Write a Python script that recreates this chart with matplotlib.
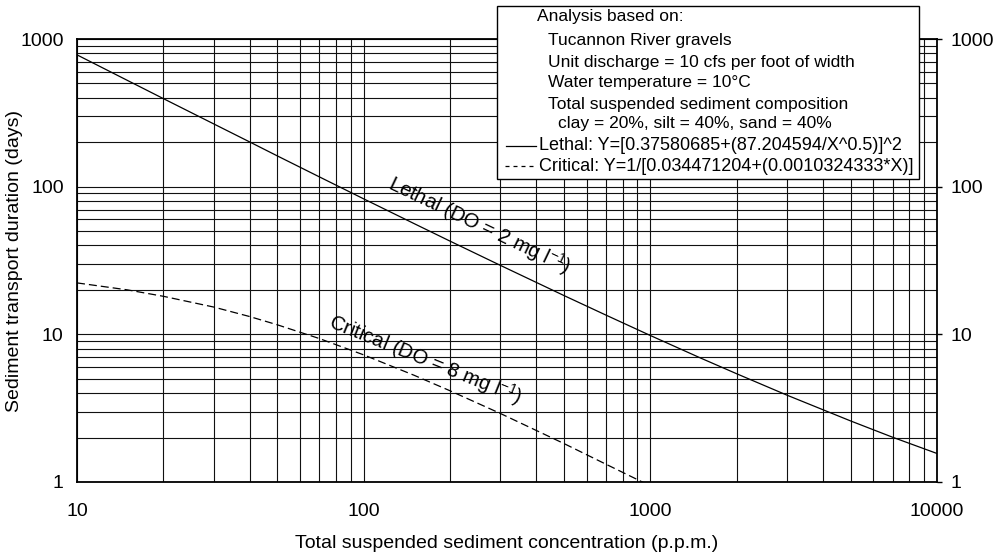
import matplotlib
matplotlib.use("Agg")
import matplotlib.pyplot as plt
from matplotlib.patches import Rectangle
from matplotlib.lines import Line2D
from matplotlib.ticker import LogLocator, FixedLocator, FixedFormatter, NullFormatter

plt.rcParams['font.family'] = ['Liberation Sans', 'DejaVu Sans']
plt.rcParams['mathtext.fontset'] = 'custom'
plt.rcParams['mathtext.rm'] = 'Liberation Sans'
plt.rcParams['mathtext.default'] = 'regular'

# ---- data ----
lethal_x = [10, 15, 20, 30, 40, 50, 70, 100, 150, 200, 300, 500, 700,
            1000, 1500, 2000, 3000, 5000, 7000, 10000]
lethal_y = [781, 524, 395, 266, 201, 161.5, 116.6, 82.7, 56.2, 42.8, 29.3,
            18.3, 13.5, 9.82, 6.90, 5.41, 3.87, 2.59, 2.01, 1.56]

critical_x = [10, 15, 20, 30, 40, 50, 70, 100, 150, 200, 300, 500, 700,
              900, 1000]
critical_y = [22.3, 20.0, 18.1, 15.3, 13.2, 11.6, 9.37, 7.26, 5.28, 4.15,
              2.91, 1.82, 1.32, 1.04, 0.94]

x_ticks = [10, 100, 1000, 10000]
x_ticklabels = ['10', '100', '1000', '10000']
y_ticks = [1, 10, 100, 1000]
y_ticklabels = ['1', '10', '100', '1000']

legend_lines = [
    ("Analysis based on:", 0),
    ("Tucannon River gravels", 1),
    ("Unit discharge = 10 cfs per foot of width", 1),
    ("Water temperature = 10\u00b0C", 1),
    ("Total suspended sediment composition", 1),
    ("clay = 20%, silt = 40%, sand = 40%", 2),
]
lethal_legend = "Lethal: Y=[0.37580685+(87.204594/X^0.5)]^2"
critical_legend = "Critical: Y=1/[0.034471204+(0.0010324333*X)]"

W, H = 1002, 555
fig = plt.figure(figsize=(W / 100, H / 100), dpi=100)
L, R, B, T = 77, 937, 482, 39
ax = fig.add_axes([L / W, 1 - B / H, (R - L) / W, (B - T) / H])

ax.set_xscale('log')
ax.set_yscale('log')
ax.set_xlim(10, 10000)
ax.set_ylim(1, 1000)

ax.plot(lethal_x, lethal_y, color='black', lw=0.9, zorder=3)
ax.plot(critical_x, critical_y, color='black', lw=0.9, zorder=3,
        dashes=(6.4, 3.2))

ax.xaxis.set_major_locator(FixedLocator(x_ticks))
ax.xaxis.set_major_formatter(FixedFormatter(x_ticklabels))
ax.yaxis.set_major_locator(FixedLocator(y_ticks))
ax.yaxis.set_major_formatter(FixedFormatter(y_ticklabels))
for axis in (ax.xaxis, ax.yaxis):
    axis.set_minor_locator(LogLocator(base=10, subs=range(2, 10)))
    axis.set_minor_formatter(NullFormatter())

ax.grid(True, which='both', color='#111111', lw=0.8)
ax.set_axisbelow(True)
for s in ax.spines.values():
    s.set_linewidth(1.3)
    s.set_color('black')

ax.tick_params(axis='x', which='both', length=0, pad=15, labelsize=14)
ax.tick_params(axis='y', which='minor', left=False, right=False)
ax.tick_params(axis='y', which='major', left=False, right=True,
               labelleft=True, labelright=True, labelsize=14,
               length=3.6, width=1.0, direction='out', pad=6)

ax.set_xlabel("Total suspended sediment concentration (p.p.m.)", fontsize=14)
ax.xaxis.set_label_coords(0.5, (B - 543) / (B - T))
ax.xaxis.label.set_va('center')
ax.set_ylabel("Sediment transport duration (days)", fontsize=14)
ax.yaxis.set_label_coords((15 - L) / (R - L), 0.5)
ax.yaxis.label.set_va('center')

ax.text(254, 54.5, "Lethal (DO = 2 mg l$^{-1}$)", fontsize=14.5,
        rotation=-25.5, rotation_mode='anchor', ha='center', va='center',
        zorder=4)
ax.text(164, 6.8, "Critical (DO = 8 mg l$^{-1}$)", fontsize=14.5,
        rotation=-22, rotation_mode='anchor', ha='center', va='center',
        zorder=4)

# ---- legend box (figure pixel coordinates) ----
def fx(px):
    return px / W

def fy(py):
    return 1 - py / H

bx0, bx1, by0, by1 = 497, 919, 6, 179
fig.patches.append(Rectangle((fx(bx0), fy(by1)), fx(bx1) - fx(bx0),
                             fy(by0) - fy(by1), transform=fig.transFigure,
                             facecolor='white', edgecolor='black', lw=1.0,
                             zorder=5))
indent_x = {0: 537, 1: 548, 2: 558}
row_y = [16, 40, 62, 83, 104, 124, 146, 166]
for (txt, lvl), yy in zip(legend_lines, row_y):
    fig.text(fx(indent_x[lvl]), fy(yy), txt, fontsize=12.5, ha='left',
             va='center', zorder=6)
fig.lines.append(Line2D([fx(506), fx(536)], [fy(146), fy(146)],
                        transform=fig.transFigure, color='black', lw=0.9,
                        zorder=6))
fig.lines.append(Line2D([fx(505), fx(536)], [fy(166), fy(166)],
                        transform=fig.transFigure, color='black', lw=0.9,
                        dashes=(3.2, 3.2), zorder=6))
fig.text(fx(539), fy(row_y[6]), lethal_legend, fontsize=12.95, ha='left',
         va='center', zorder=6)
fig.text(fx(539), fy(row_y[7]), critical_legend, fontsize=12.95, ha='left',
         va='center', zorder=6)

fig.savefig("out.png", dpi=100)
